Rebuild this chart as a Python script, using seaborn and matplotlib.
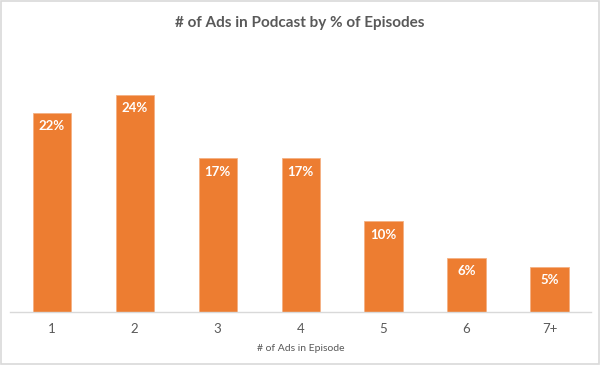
import matplotlib
matplotlib.use("Agg")
import matplotlib.pyplot as plt
import seaborn as sns
import pandas as pd
from matplotlib.patches import Rectangle

# Données
ads = ["1", "2", "3", "4", "5", "6", "7+"]
pct_episodes = [22, 24, 17, 17, 10, 6, 5]

df = pd.DataFrame({"ads": ads, "pct": pct_episodes})

sns.set_style("white")
plt.rcParams["font.family"] = ["Lato", "DejaVu Sans"]

GREY = "#595959"
ORANGE = "#ED7D31"

fig = plt.figure(figsize=(6, 3.65), dpi=100)
ax = fig.add_axes([0.017, 0.145, 0.968, 0.745])

sns.barplot(data=df, x="ads", y="pct", color=ORANGE, saturation=1,
            width=0.46, edgecolor="#F4B183", linewidth=0.6, ax=ax)

ax.set_ylim(0, 30)
ax.set_xlim(-0.5, len(ads) - 0.5)

for i, v in enumerate(pct_episodes):
    ax.annotate(f"{v}%", (i, v), xytext=(0, -5.5), textcoords="offset points",
                ha="center", va="top", color="white", fontsize=9.5,
                fontweight="bold")

ax.set_yticks([])
ax.set_ylabel("")
ax.set_xlabel("# of Ads in Episode", fontsize=7.5, color=GREY, labelpad=6)
ax.tick_params(axis="x", length=0, labelsize=9.5, labelcolor=GREY, pad=8)

for side in ["left", "right", "top"]:
    ax.spines[side].set_visible(False)
ax.spines["bottom"].set_color("#D9D9D9")
ax.spines["bottom"].set_linewidth(1)

fig.suptitle("# of Ads in Podcast by % of Episodes", y=0.955,
             fontsize=11, fontweight="bold", color=GREY)

fig.patches.append(Rectangle((0.001, 0.002), 0.997, 0.995, transform=fig.transFigure,
                             fill=False, edgecolor="#D9D9D9", linewidth=1.2))

fig.savefig("out.png", dpi=100)
plt.close()
